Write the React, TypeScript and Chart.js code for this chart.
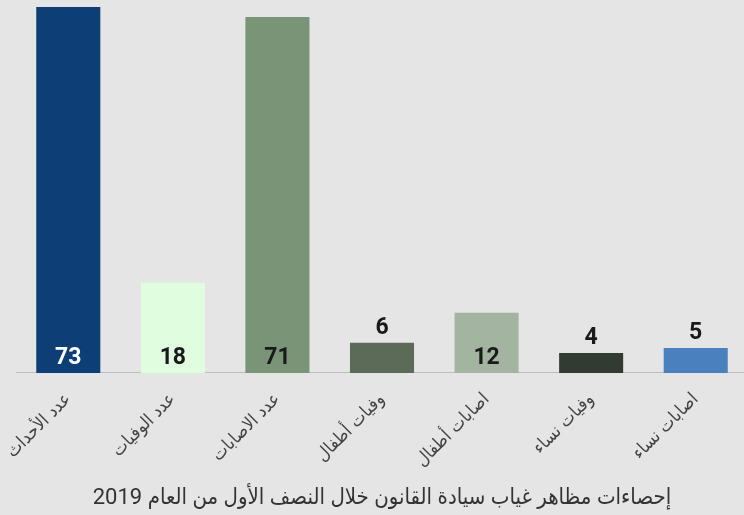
import React, { useEffect, useRef } from "react";
import { Chart, registerables } from "chart.js";

Chart.register(...registerables);

const categories = ["عدد الأحداث", "عدد الوفيات", "عدد الاصابات", "وفيات أطفال", "اصابات أطفال", "وفيات نساء", "اصابات نساء"];
const values = [73, 18, 71, 6, 12, 4, 5];
const barColors = ["#0d3e75", "#e0fde0", "#7a9478", "#5b6b58", "#a3b5a1", "#323b32", "#4b80be"];
const labelColors = ["#ffffff", "#1a1a1a", "#1a1a1a", "#1a1a1a", "#1a1a1a", "#1a1a1a", "#1a1a1a"];
const chartTitle = "إحصاءات مظاهر غياب سيادة القانون خلال النصف الأول من العام 2019";

const valueLabels = {
  id: "valueLabels",
  afterDatasetsDraw(chart: any) {
    const ctx = chart.ctx;
    const meta = chart.getDatasetMeta(0);
    ctx.save();
    ctx.font = "bold 23px Roboto, 'DejaVu Sans', sans-serif";
    ctx.textAlign = "center";
    ctx.textBaseline = "middle";
    meta.data.forEach((el: any, i: number) => {
      const v = values[i];
      const h = el.base - el.y;
      if (h > 40) {
        ctx.fillStyle = labelColors[i];
        ctx.fillText(String(v), el.x, el.base - 15);
      } else {
        ctx.fillStyle = "#1a1a1a";
        ctx.fillText(String(v), el.x, el.y - 15);
      }
    });
    ctx.restore();
  },
};

export default function App() {
  const ref = useRef<HTMLCanvasElement>(null);
  useEffect(() => {
    if (!ref.current) return;
    const chart = new Chart(ref.current, {
      type: "bar",
      data: {
        labels: categories,
        datasets: [
          {
            data: values,
            backgroundColor: barColors,
            borderWidth: 0,
            barPercentage: 0.7,
            categoryPercentage: 0.875,
          },
        ],
      },
      options: {
        responsive: false,
        animation: false,
        layout: { padding: { left: 16, right: 0, top: 7, bottom: 3 } },
        plugins: {
          legend: { display: false },
          tooltip: { enabled: false },
          title: {
            display: true,
            position: "bottom",
            text: chartTitle,
            color: "#333333",
            font: { size: 22, weight: "normal", family: "Roboto, 'DejaVu Sans Condensed', 'DejaVu Sans', sans-serif" },
            padding: { top: 6, bottom: 0 },
          },
        },
        scales: {
          x: {
            grid: { display: false },
            border: { display: true, color: "#bdbdbd", width: 1 },
            ticks: {
              color: "#444444",
              font: { size: 18, family: "'DejaVu Sans Condensed', 'DejaVu Sans', sans-serif" },
              maxRotation: 45,
              minRotation: 45,
              padding: 8,
            },
          },
          y: { display: false, min: 0, max: 73 },
        },
      },
      plugins: [valueLabels],
    });
    return () => chart.destroy();
  }, []);
  return (
    <div style={{ position: "fixed", left: 0, top: 0, width: 744, height: 515, overflow: "hidden", background: "#e5e5e5" }}>
      <canvas ref={ref} width={748} height={515} style={{ display: "block" }} />
    </div>
  );
}
